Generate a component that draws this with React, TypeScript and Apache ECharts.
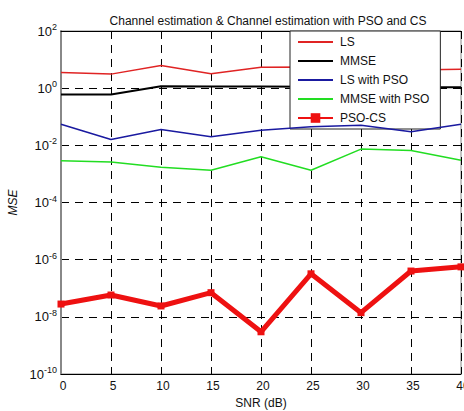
import React, { useEffect, useRef } from "react";
import * as echarts from "echarts";

const snr = [0, 5, 10, 15, 20, 25, 30, 35, 40];
const lsValues = [3.5, 3.1, 6.2, 3.2, 5.4, 5.5, 5.0, 4.3, 4.6];
const mmseValues = [0.6, 0.6, 1.17, 1.15, 1.15, 1.12, 1.1, 1.08, 1.08];
const lsPsoValues = [0.055, 0.016, 0.036, 0.02, 0.034, 0.045, 0.05, 0.03, 0.055];
const mmsePsoValues = [0.0029, 0.0026, 0.0017, 0.00135, 0.004, 0.00135, 0.0074, 0.0066, 0.003];
const psoCsValues = [2.8e-8, 5.8e-8, 2.4e-8, 7e-8, 3e-9, 3.2e-7, 1.4e-8, 4e-7, 5.6e-7];

const seriesNames = ["LS", "MMSE", "LS with PSO", "MMSE with PSO", "PSO-CS"];
const seriesColors = ["#e02424", "#000000", "#1a1aa0", "#22dd22", "#ee1111"];
const seriesWidths = [1.5, 2, 1.5, 1.5, 5];
const seriesData = [lsValues, mmseValues, lsPsoValues, mmsePsoValues, psoCsValues];

const titleText = "Channel estimation & Channel estimation with PSO and CS";
const xName = "SNR (dB)";
const yName = "MSE";

export default function App() {
  const ref = useRef<HTMLDivElement>(null);
  useEffect(() => {
    if (!ref.current) return;
    const chart = echarts.init(ref.current, undefined, { renderer: "svg" });
    const font = "Liberation Sans, Arial, sans-serif";
    chart.setOption({
      animation: false,
      backgroundColor: "#ffffff",
      textStyle: { fontFamily: font },
      title: {
        text: titleText,
        left: 263,
        textAlign: "center",
        top: 10,
        textStyle: { fontSize: 12, fontWeight: "normal", color: "#111", fontFamily: font },
      },
      legend: {
        orient: "vertical",
        left: 290,
        top: 31,
        padding: [5, 11, 5, 7],
        itemGap: 7,
        itemWidth: 35,
        itemHeight: 12,
        backgroundColor: "#ffffff",
        borderColor: "#222",
        borderWidth: 1,
        borderRadius: 0,
        textStyle: { fontSize: 12, color: "#111", fontFamily: font, padding: [0, 0, 0, 2] },
        data: seriesNames.map((name, i) =>
          i === 4 ? { name } : { name, itemStyle: { opacity: 0 } }
        ),
      },
      grid: {
        left: 61,
        right: 3,
        top: 31,
        bottom: 37,
        show: true,
        borderColor: "#888",
        borderWidth: 1,
        outerBoundsMode: "none",
        containLabel: false,
      },
      xAxis: [
        {
          type: "value",
          min: 0,
          max: 40,
          interval: 5,
          name: xName,
          nameLocation: "middle",
          nameGap: 22,
          nameTextStyle: { fontSize: 12, color: "#111", fontFamily: font },
          axisLine: { show: true, onZero: false, lineStyle: { color: "#000", width: 1 } },
          axisTick: { show: false },
          axisLabel: { fontSize: 12, color: "#111", margin: 6, fontFamily: font, padding: [0, 0, 0, 4] },
          splitLine: { show: true, lineStyle: { color: "#000", type: [8, 6], width: 1 } },
        },
        {
          type: "value",
          position: "top",
          min: 0,
          max: 40,
          interval: 5,
          axisLine: { show: true, onZero: false, lineStyle: { color: "#000", width: 1 } },
          axisTick: { show: false },
          axisLabel: { show: false },
          splitLine: { show: false },
        },
      ],
      yAxis: {
        type: "log",
        logBase: 10,
        min: 1e-10,
        max: 100,
        interval: 2,
        name: yName,
        nameLocation: "middle",
        nameGap: 32,
        nameTextStyle: { fontSize: 12, color: "#111", fontStyle: "italic", fontFamily: font },
        axisLine: { show: true, lineStyle: { color: "#888", width: 2 } },
        axisTick: { show: false },
        axisLabel: {
          margin: 4,
          formatter: (v: number) => {
            const e = Math.round(Math.log10(v));
            return "{b|10}{s|" + e + "}";
          },
          rich: {
            b: { fontSize: 13, color: "#111", fontFamily: font },
            s: { fontSize: 9, color: "#111", fontFamily: font, verticalAlign: "top", padding: [0, 0, 8, 0] },
          },
        },
        splitLine: { show: true, lineStyle: { color: "#000", type: [8, 6], width: 1 } },
      },
      series: seriesNames.map((name, i) => ({
        name,
        type: "line",
        xAxisIndex: 0,
        data: snr.map((x, j) => [x, seriesData[i][j]]),
        symbol: i === 4 ? "rect" : "none",
        symbolSize: i === 4 ? 7 : 0,
        showSymbol: i === 4,
        itemStyle: { color: seriesColors[i] },
        lineStyle: { color: seriesColors[i], width: seriesWidths[i] },
        z: 2 + i,
      })),
    });
    return () => chart.dispose();
  }, []);
  return <div ref={ref} style={{ width: 464, height: 411, position: "absolute", left: 0, top: 0 }} />;
}
